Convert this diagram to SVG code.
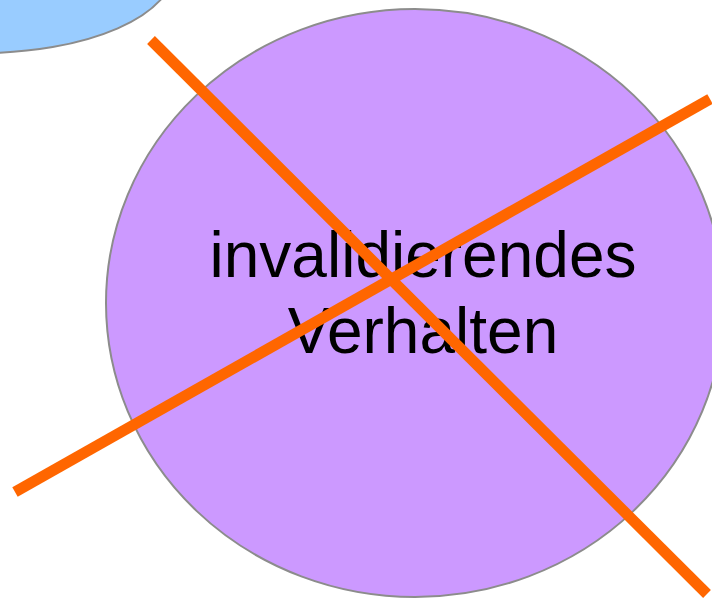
<svg xmlns="http://www.w3.org/2000/svg" width="712" height="599" viewBox="0 0 712 599">
<style>
.node{stroke:#8c8c8c;stroke-width:2}
.lbl{font-family:"Liberation Sans",Arial,sans-serif;font-size:64px;fill:#000;text-anchor:middle}
.cross{stroke:#ff6600;stroke-width:11;stroke-linecap:butt;fill:none}
</style>
<rect width="712" height="599" fill="#fff"/>
<g id="node-blue">
<ellipse class="node" cx="-18" cy="-31" rx="192" ry="84" fill="#99ccff"/>
</g>
<g id="node-invalidierendes">
<ellipse class="node" cx="415" cy="303" rx="309" ry="294" fill="#cc99ff"/>
<text class="lbl" x="423" y="277">invalidierendes</text>
<text class="lbl" x="423" y="353">Verhalten</text>
</g>
<g id="connectors">
<line class="cross" x1="151" y1="40" x2="707" y2="594"/>
<line class="cross" x1="15" y1="492" x2="710" y2="99"/>
</g>
</svg>
